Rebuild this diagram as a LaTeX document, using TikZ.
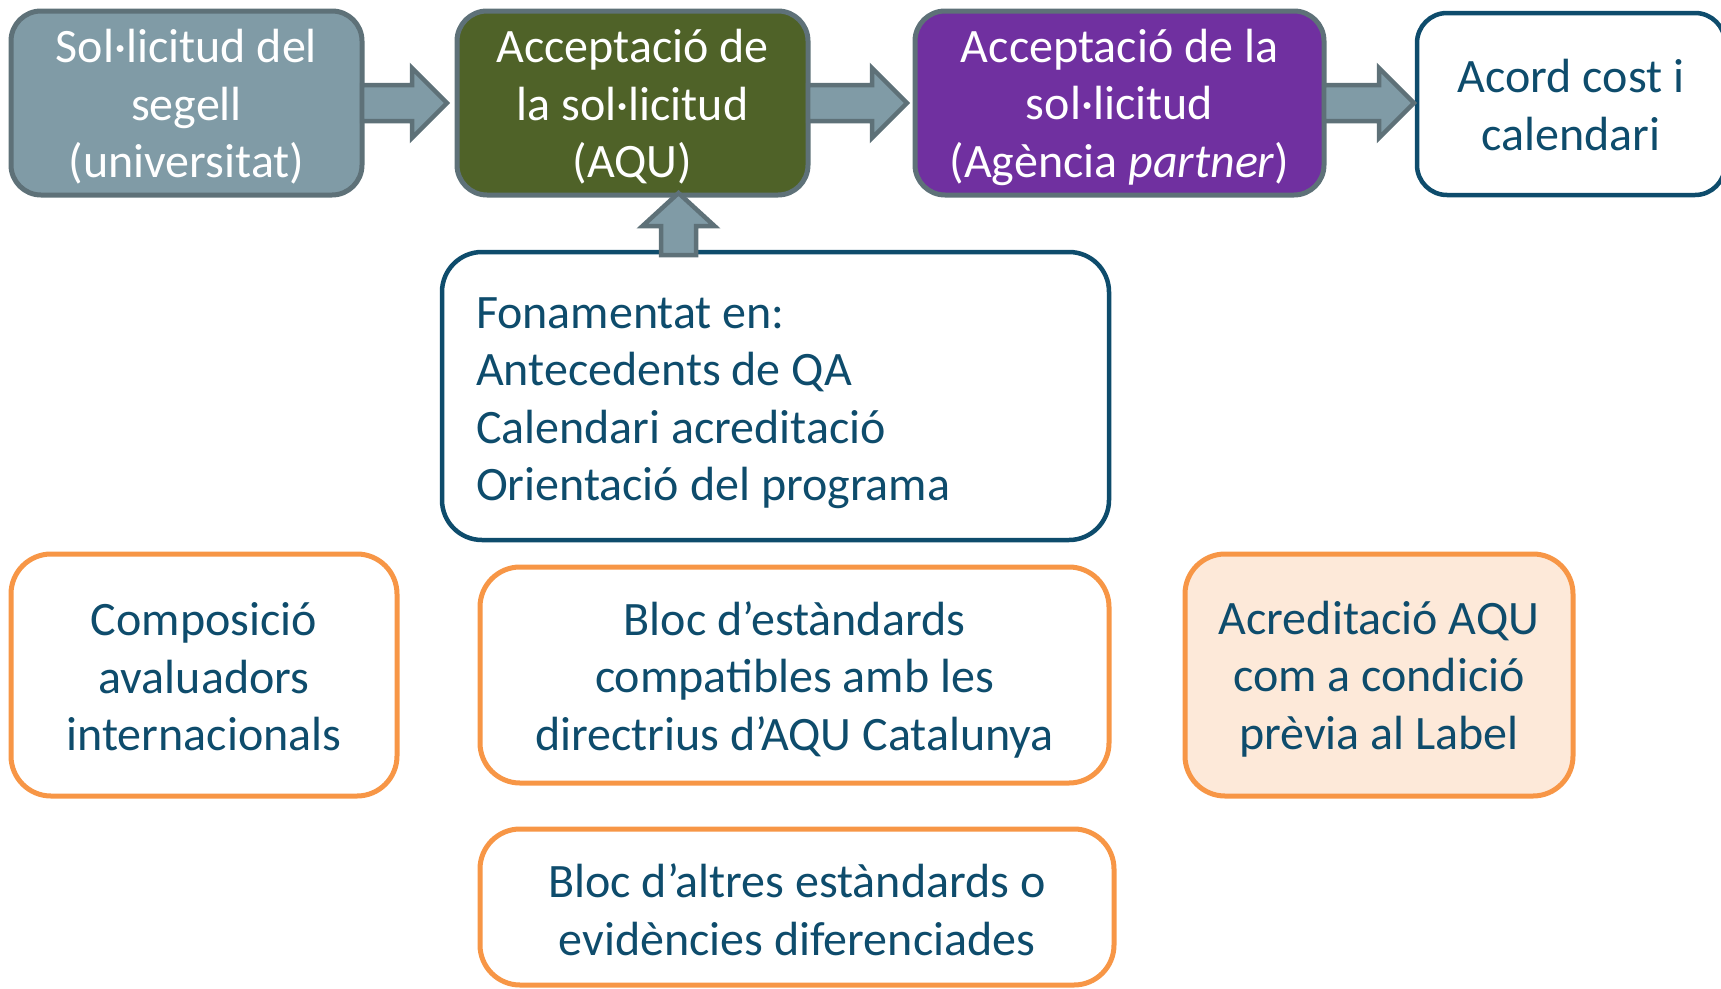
\documentclass[tikz,border=0pt]{standalone}
\usepackage{fontspec}
\setmainfont{Carlito}
\usetikzlibrary{calc}
\definecolor{txtblue}{RGB}{14,76,108}
\definecolor{grayfill}{RGB}{128,155,166}
\definecolor{grayline}{RGB}{94,113,120}
\definecolor{olive}{RGB}{79,98,40}
\definecolor{purp}{RGB}{112,48,160}
\definecolor{orng}{RGB}{247,150,70}
\definecolor{peach}{RGB}{253,233,217}
\newcommand\harrow[3]{%
  \draw[arr] let \p1=(#1.east), \p2=(#2.west) in
    (\x1,\y1+18pt) -- (\x2-#3-35pt,\y1+18pt) -- (\x2-#3-35pt,\y1+35pt) --
    (\x2-#3,\y1) -- (\x2-#3-35pt,\y1-35pt) -- (\x2-#3-35pt,\y1-18pt) --
    (\x1,\y1-18pt) -- cycle;}
\begin{document}
\begin{tikzpicture}[x=1pt,y=-1pt,
  txt/.style={font=\fontsize{48}{57.5}\selectfont, inner sep=0pt, outer sep=0pt},
  wtxt/.style={txt, text=white, align=center},
  btxt/.style={txt, text=txtblue, align=center},
  box/.style={rounded corners=30pt, line width=5pt, outer sep=0pt, inner sep=0pt},
  topbox/.style={box, draw=grayline, minimum height=184pt},
  obox/.style={box, draw=orng, fill=white, rounded corners=40pt},
  arr/.style={draw=grayline, fill=grayfill, line width=4.5pt, line join=miter}
]
\useasboundingbox (0,0) rectangle (1721,988);

\node[topbox, fill=grayfill, minimum width=351pt] (b1) at (186.5,103) {};
\node[wtxt] (b1t) at ([yshift=-4pt]b1.center) {Sol·licitud del\\segell\\(universitat)};
\node[topbox, fill=olive, minimum width=351pt] (b2) at (632.5,103) {};
\node[wtxt] (b2t) at ([yshift=-4pt]b2.center) {Acceptació de\\la sol·licitud\\(AQU)};
\node[topbox, fill=purp, minimum width=409pt] (b3) at (1119.5,103) {};
\node[wtxt] (b3t) at ([yshift=-4pt]b3.center) {Acceptació de la\\sol·licitud\\(Agència \textit{partner})};
\node[box, draw=txtblue, line width=4.5pt, fill=white, minimum width=308pt, minimum height=182pt] (b4) at (1571,104) {};
\node[btxt] (b4t) at ([yshift=-1pt]b4.center) {Acord cost i\\calendari};

\node[box, draw=txtblue, line width=4.5pt, fill=white, rounded corners=40pt,
  minimum width=667pt, minimum height=288pt] (fon) at (775.5,396) {};
\node[txt, text=txtblue, align=left, anchor=west] (font) at ([xshift=34pt,yshift=-7pt]fon.west)
  {Fonamentat en:\\Antecedents de QA\\Calendari acreditació\\Orientació del programa};

\node[obox, minimum width=386pt, minimum height=242pt] (comp) at (204,675) {};
\node[btxt] (compt) at ([yshift=-2pt]comp.center) {Composició\\avaluadors\\internacionals};
\node[obox, minimum width=629pt, minimum height=216pt] (est) at (794.5,675) {};
\node[btxt] (estt) at ([yshift=-4.5pt]est.center) {Bloc d’estàndards\\compatibles amb les\\directrius d’AQU Catalunya};
\node[obox, fill=peach, minimum width=388pt, minimum height=242pt] (acr) at (1379,675) {};
\node[btxt] (acrt) at ([yshift=-4pt]acr.center) {Acreditació AQU\\com a condició\\prèvia al Label};
\node[obox, minimum width=634pt, minimum height=156pt] (alt) at (797,907) {};
\node[btxt] (altt) at ([yshift=-2.5pt]alt.center) {Bloc d’altres estàndards o\\evidències diferenciades};

\harrow{b1}{b2}{10pt}
\harrow{b2}{b3}{8pt}
\harrow{b3}{b4}{3pt}

\coordinate (ua) at (678.5,0);
\draw[arr] let \p1=(b2.south), \p2=(fon.north), \p3=(ua) in
  (\x3-17.5pt,\y2-3pt) -- (\x3-17.5pt,\y1-31pt) -- (\x3-36pt,\y1-31pt) --
  (\x3,\y1+2pt) -- (\x3+36pt,\y1-31pt) -- (\x3+17.5pt,\y1-31pt) --
  (\x3+17.5pt,\y2-3pt) -- cycle;
\end{tikzpicture}
\end{document}
